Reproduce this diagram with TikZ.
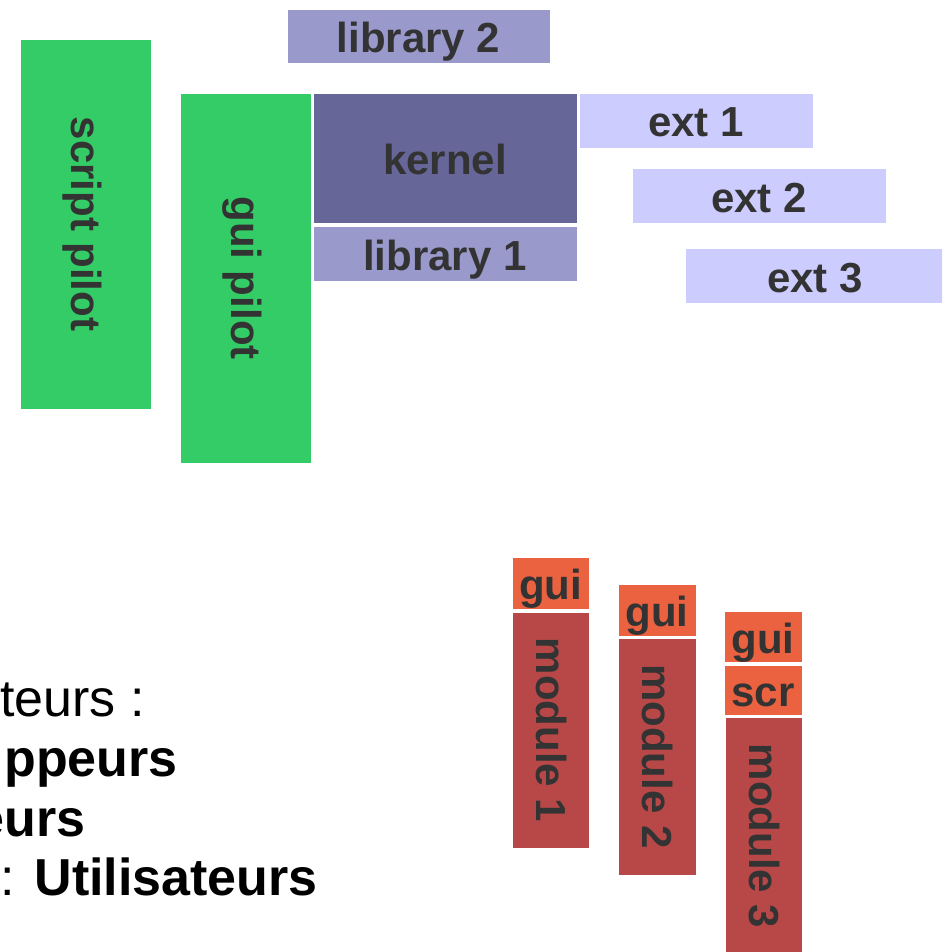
\documentclass[tikz,border=0pt]{standalone}
\usepackage{fontspec}
\setmainfont{Liberation Sans}
\definecolor{pilotgreen}{HTML}{33CC66}
\definecolor{kernelc}{HTML}{666699}
\definecolor{libc}{HTML}{9999CC}
\definecolor{extc}{HTML}{CCCCFF}
\definecolor{guic}{HTML}{EA6240}
\definecolor{modc}{HTML}{B84848}
\definecolor{txt}{HTML}{333333}
\tikzset{
  blk/.style={draw=white, line width=0.6pt, inner sep=0pt, outer sep=0pt, fill=#1},
  lbl/.style={inner sep=0pt, text=txt, font=\fontsize{42}{42}\selectfont\bfseries, text height=33pt, text depth=0pt},
  lbr/.style={inner sep=0pt, text=txt, font=\fontsize{42}{42}\selectfont\bfseries, text height=29pt, text depth=0pt, rotate=-90},
  ltext/.style={inner sep=0pt, anchor=base east, text=black, font=\fontsize{52}{52}\selectfont}
}
\begin{document}
\begin{tikzpicture}[x=1pt,y=-1pt]
\useasboundingbox (0,0) rectangle (942,952);
\clip (0,0) rectangle (942,952);
% top group
\node[blk=libc, minimum width=263, minimum height=54] (lib2) at (418.5,36) {};
\node[lbl] at (lib2.center) {library 2};
\node[blk=pilotgreen, minimum width=131, minimum height=370] (sp) at (85.5,224) {};
\node[lbr] at (sp.center) {script pilot};
\node[blk=pilotgreen, minimum width=131, minimum height=370] (gp) at (245.5,278) {};
\node[lbr] at (gp.center) {gui pilot};
\node[blk=kernelc, minimum width=264, minimum height=130] (kernel) at (445,158) {};
\node[lbl] at (kernel.center) {kernel};
\node[blk=libc, minimum width=264, minimum height=55] (lib1) at (445,253.5) {};
\node[lbl] at (lib1.center) {library 1};
\node[blk=extc, minimum width=234, minimum height=55] (ext1) at (696,120.5) {};
\node[lbl] at (ext1.center) {ext 1};
\node[blk=extc, minimum width=254, minimum height=55] (ext2) at (759,195.5) {};
\node[lbl] at (ext2.center) {ext 2};
\node[blk=extc, minimum width=260, minimum height=55] (ext3) at (815,275.5) {};
\node[lbl] at (ext3.center) {ext 3};
% modules
\node[blk=guic, minimum width=77, minimum height=52] (g1) at (550.5,583) {};
\node[lbl] at (g1.center) {gui};
\node[blk=modc, minimum width=77, minimum height=236] (m1) at (550.5,730) {};
\node[lbr] at (m1.center) {module 1};
\node[blk=guic, minimum width=78, minimum height=52] (g2) at (657,610) {};
\node[lbl] at (g2.center) {gui};
\node[blk=modc, minimum width=78, minimum height=237] (m2) at (657,756.5) {};
\node[lbr] at (m2.center) {module 2};
\node[blk=guic, minimum width=78, minimum height=51] (g3) at (763,636.5) {};
\node[lbl] at (g3.center) {gui};
\node[blk=guic, minimum width=78, minimum height=50] (s3) at (763,690) {};
\node[lbl] at (s3.center) {scr};
\node[blk=modc, minimum width=77, minimum height=238] (m3) at (763.5,836) {};
\node[lbr] at (m3.center) {module 3};
% left text (clipped at the page edge)
\node[ltext] (t1) at (145,716) {teurs :};
\node[ltext, font=\fontsize{52}{52}\selectfont\bfseries] (t2) at (178,776) {ppeurs};
\node[ltext, font=\fontsize{52}{52}\selectfont\bfseries] (t3) at (86,836) {eurs};
\node[ltext] (t4) at (318,895) {: \textbf{Utilisateurs}};
\end{tikzpicture}
\end{document}
